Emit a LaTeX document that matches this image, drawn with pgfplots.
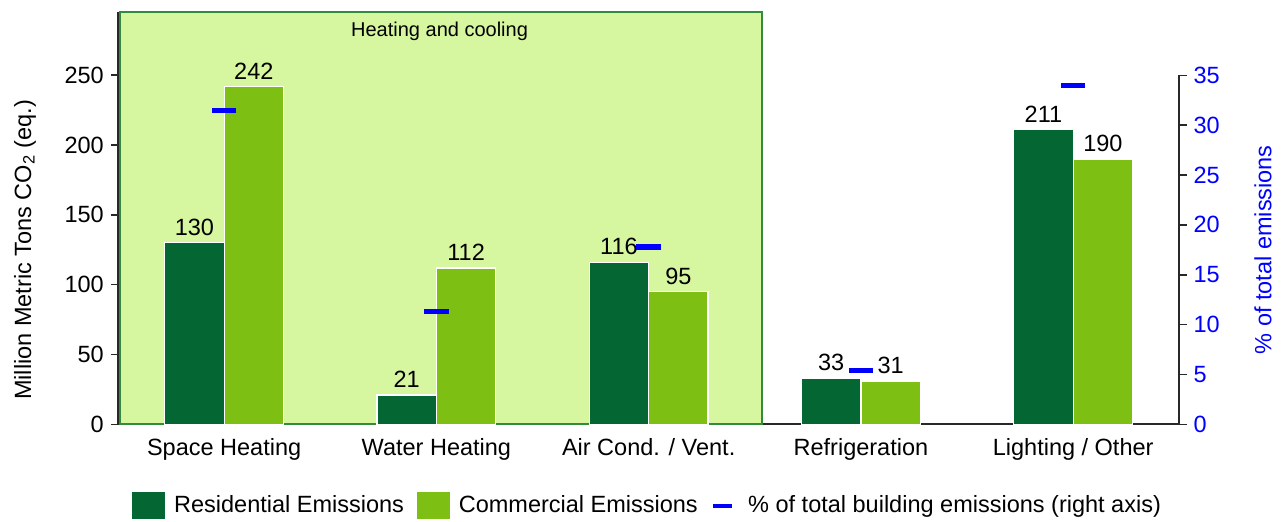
\documentclass[border=0pt]{standalone}
\usepackage{fontspec}
\setmainfont{Liberation Sans}
\usepackage{pgfplots}
\pgfplotsset{compat=1.18}
\definecolor{resgreen}{RGB}{3,102,51}
\definecolor{comgreen}{RGB}{125,192,19}
\definecolor{boxfill}{RGB}{214,246,160}
\definecolor{boxborder}{RGB}{50,140,60}
\definecolor{pctblue}{RGB}{0,0,255}
\definecolor{axisgray}{RGB}{40,40,40}
\begin{document}
\begin{tikzpicture}
\pgfplotsset{
  base/.style={
    scale only axis, width=530.65pt, at={(0,0)}, anchor=south west,
    xmin=-0.5, xmax=4.5, ymin=0, clip=false,
    font=\fontsize{11.75}{14}\selectfont,
    /pgf/number format/assume math mode=true,
    tick align=outside, major tick length=3.6pt,
    tick style={axisgray, line width=0.8pt},
    axis line style={axisgray, line width=0.9pt},
  }
}
\begin{axis}[base, height=206.15pt, ymax=295.3,
  ybar=0pt, bar width=0.28,
  axis x line*=bottom, axis y line*=left,
  xtick={0,1,2,3,4},
  xticklabels={Space Heating, Water Heating, Air Cond. / Vent., Refrigeration, Lighting / Other},
  x tick style={draw=none},
  ytick={0,50,100,150,200,250},
  every axis y label/.style={at={(axis description cs:-0.0876,0.4232)}, rotate=90, anchor=center},
  ylabel={Million Metric Tons CO\textsubscript{2} (eq.)},
  nodes near coords,
  every node near coord/.append style={font=\fontsize{11.75}{14}\selectfont, black},
]
\draw[fill=boxfill, draw=boxborder, line width=1pt] (axis cs:-0.492,0) rectangle (axis cs:2.535,295.3);
\node[font=\fontsize{10}{12}\selectfont, black] at (axis cs:1.015,281.7) {Heating and cooling};
\addplot[bar shift=-0.14, fill=resgreen, draw=white, line width=0.6pt]
  coordinates {(0,130) (1,21) (2,116) (3,33) (4,211)};
\addplot[bar shift=0.14, fill=comgreen, draw=white, line width=0.6pt]
  coordinates {(0,242) (1,112) (2,95) (3,31) (4,190)};
\end{axis}
\begin{axis}[base, height=174.5pt, ymax=35,
  axis x line=none, axis y line*=right,
  ytick={0,5,10,15,20,25,30,35},
  yticklabel style={pctblue},
  every axis y label/.style={at={(axis description cs:1.0789,0.5)}, rotate=90, anchor=center, pctblue},
  ylabel={\% of total emissions},
  legend style={at={(0.5,-0.2327)}, anchor=center, draw=none, fill=none,
    font=\fontsize{11.75}{14}\selectfont, legend columns=-1,
    /tikz/every odd column/.append style={column sep=2.5pt},
    /tikz/every even column/.append style={column sep=4.5pt}},
]
\addlegendimage{legend image code/.code={\fill[resgreen] (0pt,-6.5pt) rectangle (16pt,6.5pt);}}
\addlegendentry{Residential Emissions}
\addlegendimage{legend image code/.code={\fill[comgreen] (0pt,-6.5pt) rectangle (16pt,6.5pt);}}
\addlegendentry{Commercial Emissions}
\addplot[pctblue, only marks, mark=-, mark size=6.1pt, mark options={line width=2.7pt},
  legend image code/.code={\draw[pctblue, line width=2pt] (0pt,0pt) -- (9.5pt,0pt); \path (13pt,0pt);}]
  coordinates {(0,31.5) (1,11.3) (2,17.8) (3,5.4) (4,34.0)};
\addlegendentry{\% of total building emissions (right axis)}
\end{axis}
\pgfresetboundingbox
\path[use as bounding box] (-59pt,-48.35pt) rectangle (583pt,212.15pt);
\end{tikzpicture}
\end{document}
